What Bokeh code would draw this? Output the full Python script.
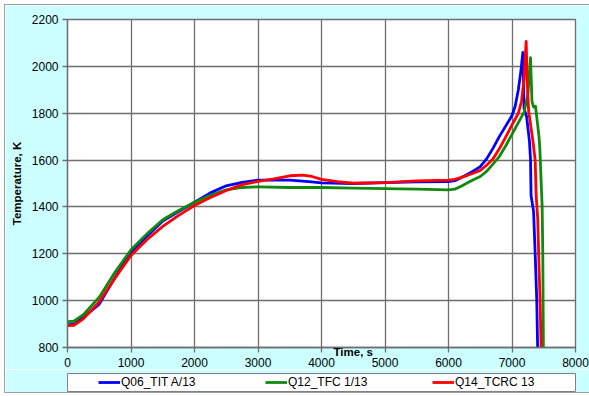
from bokeh.plotting import figure
from bokeh.models import Range1d, FixedTicker, Legend, LegendItem, Title
from bokeh.layouts import column
from bokeh.embed import file_html
from bokeh.resources import INLINE

# ---- data ----
x_ticks = [0, 1000, 2000, 3000, 4000, 5000, 6000, 7000, 8000]
y_ticks = [800, 1000, 1200, 1400, 1600, 1800, 2000, 2200]

series_names = ["Q06_TIT A/13", "Q12_TFC 1/13", "Q14_TCRC 13"]

time_blue = [0, 100, 250, 500, 750, 1000, 1250, 1500, 1750, 2000, 2250, 2500, 2750,
             3000, 3500, 3800, 4000, 4500, 5000, 5500, 6000, 6100, 6200, 6300, 6400,
             6500, 6600, 6700, 6800, 6900, 7000, 7050, 7100, 7140, 7171, 7190, 7230,
             7275, 7292, 7300, 7340, 7365, 7390, 7405]
temp_blue = [897, 900, 928, 985, 1100, 1208, 1275, 1340, 1380, 1420, 1460, 1490, 1505,
             1514, 1514, 1508, 1503, 1500, 1504, 1507, 1508, 1512, 1525, 1540, 1555,
             1572, 1605, 1650, 1700, 1745, 1790, 1830, 1900, 1980, 2060, 1820, 1785,
             1680, 1600, 1450, 1380, 1200, 1000, 780]

time_green = [0, 100, 250, 500, 750, 1000, 1250, 1500, 1750, 2000, 2250, 2500, 2750,
              3000, 3500, 4000, 4500, 5000, 5500, 6000, 6100, 6200, 6300, 6400, 6500,
              6600, 6700, 6800, 6900, 7000, 7100, 7190, 7250, 7291, 7315, 7340, 7370,
              7400, 7425, 7440, 7460, 7475, 7485, 7490, 7495]
temp_green = [910, 912, 940, 1015, 1122, 1217, 1285, 1345, 1385, 1420, 1450, 1473, 1483,
              1486, 1483, 1483, 1480, 1478, 1476, 1473, 1476, 1488, 1503, 1517, 1530,
              1552, 1583, 1615, 1660, 1710, 1760, 1805, 1880, 2037, 1850, 1826, 1830,
              1760, 1700, 1640, 1500, 1400, 1200, 1000, 780]

time_red = [0, 100, 250, 500, 750, 1000, 1250, 1500, 1750, 2000, 2250, 2500, 2750,
            3000, 3250, 3500, 3700, 3850, 4000, 4250, 4500, 5000, 5500, 6000, 6100,
            6200, 6300, 6400, 6500, 6600, 6700, 6800, 6900, 7000, 7100, 7150, 7190,
            7223, 7240, 7262, 7330, 7365, 7380, 7405, 7425, 7442, 7460]
temp_red = [893, 895, 922, 995, 1097, 1193, 1260, 1317, 1364, 1406, 1440, 1470, 1495,
            1509, 1520, 1533, 1536, 1530, 1518, 1508, 1501, 1504, 1511, 1514, 1518,
            1526, 1535, 1545, 1556, 1578, 1605, 1648, 1698, 1750, 1800, 1850, 1950,
            2107, 1930, 1810, 1680, 1600, 1450, 1350, 1150, 1000, 780]

x_title = "Time, s"
y_title = "Temperature, K"

colors = ["#0000FF", "#0F8A0F", "#FF0000"]
series = [(time_blue, temp_blue), (time_green, temp_green), (time_red, temp_red)]
FONT = "Liberation Sans"
GRID = "#6E6E6E"
CYAN = "#CCFFFF"

# ---- main chart ----
p = figure(width=584, height=364, output_backend="svg", toolbar_location=None,
           x_range=Range1d(0, 8000), y_range=Range1d(800, 2200),
           min_border_left=62, min_border_right=14, min_border_top=14, min_border_bottom=22)
p.background_fill_color = "white"
p.border_fill_color = CYAN
p.outline_line_color = GRID
p.outline_line_width = 1.3

for ax in (p.xaxis[0], p.yaxis[0]):
    ax.axis_line_color = GRID
    ax.axis_line_width = 1.3
    ax.major_tick_line_color = GRID
    ax.major_tick_line_width = 1.3
    ax.major_tick_out = 5
    ax.major_tick_in = 0
    ax.minor_tick_line_color = None
    ax.major_label_text_font = FONT
    ax.major_label_text_font_size = "12px"
    ax.major_label_text_color = "black"

p.xaxis.ticker = FixedTicker(ticks=x_ticks)
p.yaxis.ticker = FixedTicker(ticks=y_ticks)
p.xaxis.major_label_standoff = 5
p.yaxis.major_label_standoff = 4

p.yaxis.axis_label = y_title
p.yaxis.axis_label_text_font = FONT
p.yaxis.axis_label_text_font_style = "bold"
p.yaxis.axis_label_text_font_size = "11.5px"
p.yaxis.axis_label_text_color = "black"
p.yaxis.axis_label_standoff = 6

p.xgrid.grid_line_color = GRID
p.ygrid.grid_line_color = GRID
p.xgrid.grid_line_width = 1.3
p.ygrid.grid_line_width = 1.3

for (xs, ys), c in zip(series, colors):
    p.line(xs, ys, line_color=c, line_width=2.8, line_join="round")

# x-axis title sits between the axis line and the tick labels, right of centre
p.add_layout(Title(text=x_title, align="left", offset=266, standoff=-48,
                   vertical_align="top",
                   text_font=FONT, text_font_style="bold", text_font_size="11.5px",
                   text_color="black"), "below")

# ---- legend strip (its frame is the legend box) ----
q = figure(width=584, height=23, output_backend="svg", toolbar_location=None,
           x_range=Range1d(0, 1), y_range=Range1d(0, 1),
           x_axis_location=None, y_axis_location=None,
           min_border_left=61, min_border_right=12, min_border_top=4, min_border_bottom=1)
q.grid.visible = False
q.background_fill_color = "white"
q.border_fill_color = CYAN
q.outline_line_color = "#808080"
q.outline_line_width = 1

# legend samples: same series, they fall outside this strip's ranges
leg_renderers = [q.line(xs, ys, line_color=c, line_width=2.8) for (xs, ys), c in zip(series, colors)]
legend = Legend(items=[LegendItem(label=n, renderers=[r]) for n, r in zip(series_names, leg_renderers)],
                orientation="horizontal", location=(31, 0),
                glyph_width=22, glyph_height=18, label_height=18, label_standoff=1,
                label_width=93, spacing=51, padding=0, margin=0,
                border_line_alpha=0, background_fill_alpha=0,
                label_text_font=FONT, label_text_font_size="12px",
                label_text_color="black")
q.add_layout(legend)

layout = column(p, q, spacing=0, margin=(4, 0, 0, 4),
                styles={"border-top": "1px solid #A0A0A0",
                        "border-left": "1px solid #A0A0A0",
                        "border-bottom": "1px solid #A0A0A0"})

open("out.html", "w").write(file_html(layout, INLINE))
